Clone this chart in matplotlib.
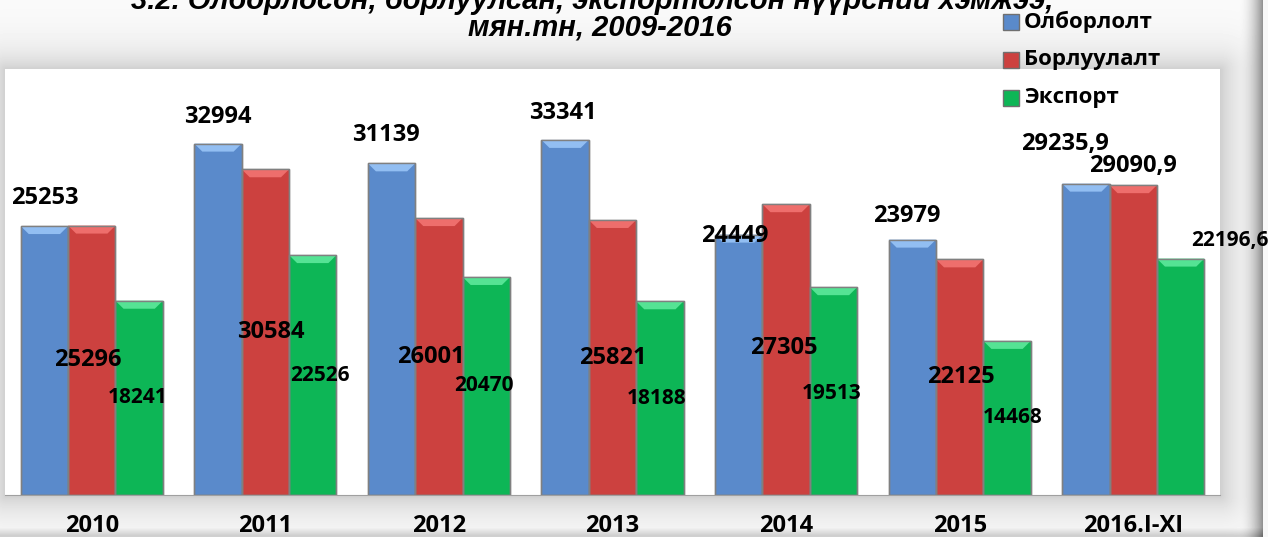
import numpy as np
import matplotlib
matplotlib.use('Agg')
import matplotlib.pyplot as plt
import matplotlib.patches as mpatches

# data
years = ['2010', '2011', '2012', '2013', '2014', '2015', '2016.I-XI']
production = [25253, 32994, 31139, 33341, 24449, 23979, 29235.9]
sales = [25296, 30584, 26001, 25821, 27305, 22125, 29090.9]
export = [18241, 22526, 20470, 18188, 19513, 14468, 22196.6]
production_labels = ['25253', '32994', '31139', '33341', '24449', '23979', '29235,9']
sales_labels = ['25296', '30584', '26001', '25821', '27305', '22125', '29090,9']
export_labels = ['18241', '22526', '20470', '18188', '19513', '14468', '22196,6']
series_names = ['Олборлолт', 'Борлуулалт', 'Экспорт']
title_line1 = '3.2. Олборлосон, борлуулсан, экспортолсон нүүрсний хэмжээ,'
title_line2 = 'мян.тн, 2009-2016'

# label offsets in pixels (dx, dy); blue from bar top, red/green from bar middle
prod_off = [(0, 28), (0, 27), (-6, 28), (-2, 27), (-4, -1), (-5, 24), (-21, 40)]
sales_off = [(-4, 0), (5, 0), (-8, 0), (0, 0), (-2, 2), (1, 0), None]
export_off = [(-2, 0), (7, 0), (-2, 0), (-3, 0), (-2, -2), (6, 0), None]

FONT = ['Open Sans', 'DejaVu Sans']

W, H = 1268, 537
fig = plt.figure(figsize=(W / 100, H / 100), dpi=100)

# background with soft shadow around plot area
x0, y0, x1, y1 = 5, 69, 1220, 495
yy, xx = np.mgrid[0:H, 0:W]
ddx = np.maximum(np.maximum(x0 - xx, xx - x1), 0)
ddy = np.maximum(np.maximum(y0 - yy, yy - y1), 0)
d = np.hypot(ddx, ddy)
bg = 0.985 - 0.17 * np.exp(-d / 20.0)
bg -= 0.40 * np.clip((xx - 1238) / 24.0, 0, 1) ** 2 * (xx <= 1262)
bg[:, 1263:] = 0.97
bg -= 0.15 * np.clip((yy - 527) / 8.0, 0, 1) * (xx < 1263)
bg_ax = fig.add_axes([0, 0, 1, 1], zorder=-10)
bg_ax.imshow(bg, cmap='gray', vmin=0, vmax=1, aspect='auto', extent=(0, W, H, 0))
bg_ax.axis('off')

ax = fig.add_axes([x0 / W, (H - y1) / H, (x1 - x0) / W, (y1 - y0) / H])
ax.set_facecolor('white')

x = np.arange(len(years))
bw = 0.273
colors = ['#5A8ACB', '#CC413F', '#0DB656']
tops = ['#92BEF2', '#EE6E6C', '#55E394']
series = [production, sales, export]
all_bars = []
for i, (vals, c, tc) in enumerate(zip(series, colors, tops)):
    bars = ax.bar(x + (i - 1) * bw, vals, bw, color=c, edgecolor='#808080', linewidth=1.0, zorder=2)
    all_bars.append(bars)
    # bevel at bar top
    for b in bars:
        bx, bwid, bh = b.get_x(), b.get_width(), b.get_height()
        ins = bwid * 0.17
        depth = 750
        poly = mpatches.Polygon([(bx, bh), (bx + bwid, bh), (bx + bwid - ins, bh - depth), (bx + ins, bh - depth)],
                                closed=True, facecolor=tc, edgecolor='none', zorder=3)
        ax.add_patch(poly)
        ax.add_patch(mpatches.Rectangle((bx, 0), bwid, bh, facecolor='none', edgecolor='#808080', lw=1.0, zorder=4))

ax.set_xlim(-0.5, len(years) - 0.5)
ax.set_ylim(0, 40000)
ax.set_yticks([])
ax.set_xticks(x)
ax.set_xticklabels(years, fontsize=17, fontweight='bold', family=FONT)
ax.tick_params(axis='x', length=0, pad=14)
for s in ['top', 'left', 'right']:
    ax.spines[s].set_visible(False)
ax.spines['bottom'].set_color('#a0a0a0')

big = dict(fontsize=17, fontweight='bold', family=FONT, ha='center', va='center', zorder=5,
           textcoords='offset pixels')
small = dict(big, fontsize=15)

for b, lab, off in zip(all_bars[0], production_labels, prod_off):
    cx = b.get_x() + b.get_width() / 2
    ax.annotate(lab, (cx, b.get_height()), xytext=off, annotation_clip=False, **big)

for b, lab, off in zip(all_bars[1], sales_labels, sales_off):
    cx = b.get_x() + b.get_width() / 2
    if off is None:
        ax.annotate(lab, (cx, b.get_height()), xytext=(0, 19), annotation_clip=False, **big)
    else:
        ax.annotate(lab, (cx, b.get_height() / 2), xytext=off, annotation_clip=False, **big)

for b, lab, off in zip(all_bars[2], export_labels, export_off):
    cx = b.get_x() + b.get_width() / 2
    if off is None:
        ax.annotate(lab, (cx, b.get_height()), xytext=(49, 18), annotation_clip=False, **small)
    else:
        ax.annotate(lab, (cx, b.get_height() / 2), xytext=off, annotation_clip=False, **small)

# title (top line cut by the frame)
tkw = dict(ha='center', va='baseline', fontsize=21, fontweight='bold', fontstyle='italic',
           family='Liberation Sans')
fig.text(592 / W, 1 - 9 / H, title_line1, **tkw)
fig.text(600 / W, 1 - 36 / H, title_line2, **tkw)

# legend
for i, (c, n) in enumerate(zip(colors, series_names)):
    yc = 22 + 38 * i
    fig.patches.append(mpatches.Rectangle((1003 / W, 1 - (yc + 8) / H), 16 / W, 16 / H, transform=fig.transFigure,
                                          facecolor=c, edgecolor='#707070', lw=1.0))
    fig.text(1024 / W, 1 - yc / H, n, ha='left', va='center', fontsize=16, fontweight='bold', family=FONT)

fig.savefig('out.png', dpi=100)
